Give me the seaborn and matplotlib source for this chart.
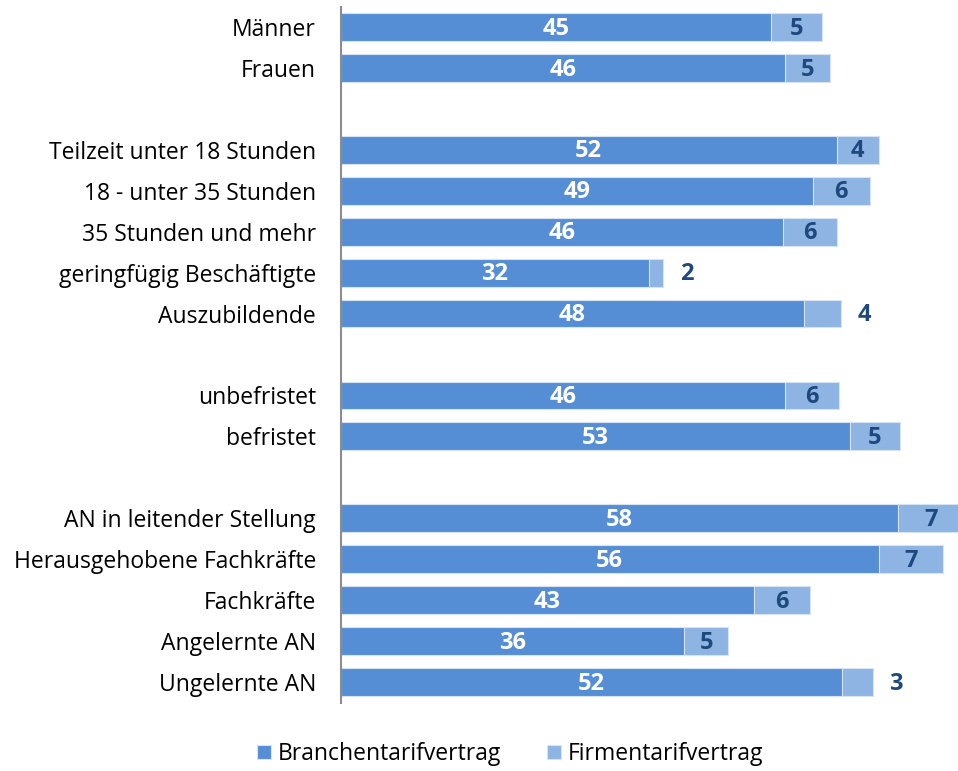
import matplotlib
matplotlib.use("Agg")
import matplotlib.pyplot as plt
import pandas as pd
import seaborn as sns

# categories, blank strings mark the gaps between groups
categories = ["Männer", "Frauen", "",
              "Teilzeit unter 18 Stunden", "18 - unter 35 Stunden", "35 Stunden und mehr",
              "geringfügig Beschäftigte", "Auszubildende", " ",
              "unbefristet", "befristet", "  ",
              "AN in leitender Stellung", "Herausgehobene Fachkräfte", "Fachkräfte",
              "Angelernte AN", "Ungelernte AN"]
rows = ["Männer", "Frauen",
        "Teilzeit unter 18 Stunden", "18 - unter 35 Stunden", "35 Stunden und mehr",
        "geringfügig Beschäftigte", "Auszubildende",
        "unbefristet", "befristet",
        "AN in leitender Stellung", "Herausgehobene Fachkräfte", "Fachkräfte",
        "Angelernte AN", "Ungelernte AN"]
branche = [44.9, 46.4, 51.8, 49.3, 46.2, 32.2, 48.4, 46.4, 53.2, 58.2, 56.2, 43.2, 35.9, 52.4]
firma = [5.4, 4.7, 4.4, 6.0, 5.7, 1.5, 3.9, 5.7, 5.2, 7.0, 6.7, 5.8, 4.6, 3.2]
# small segments get their label outside the bar
outside = ["geringfügig Beschäftigte", "Auszubildende", "Ungelernte AN"]

dark = "#558ED5"
light = "#8EB4E3"
txt_dark = "#1F497D"

plt.rcParams["font.family"] = ["Open Sans", "DejaVu Sans"]

df = pd.DataFrame({"row": rows, "branche": branche, "firma": firma})
df["total"] = df["branche"] + df["firma"]

fig = plt.figure(figsize=(9.58, 7.71), dpi=100)
ax = fig.add_axes([341 / 958, 1 - 702.5 / 771, 1 - 341 / 958, 696 / 771])

sns.barplot(data=df, x="total", y="row", order=categories, color=light,
            saturation=1, width=0.68, edgecolor="#D6E3F3", linewidth=0.8,
            orient="h", ax=ax, label="Firmentarifvertrag")
sns.barplot(data=df, x="branche", y="row", order=categories, color=dark,
            saturation=1, width=0.68, edgecolor="#D6E3F3", linewidth=0.8,
            orient="h", ax=ax, label="Branchentarifvertrag")
h, l = ax.get_legend_handles_labels()
if ax.get_legend() is not None:
    ax.get_legend().remove()

pos = {c: i for i, c in enumerate(categories)}
for _, r in df.iterrows():
    y = pos[r["row"]] + 0.04
    ax.text(r["branche"] / 2, y, f"{r['branche']:.0f}", ha="center", va="center",
            color="white", fontsize=17, fontweight="bold")
    if r["row"] in outside:
        xf = r["total"] + 2.4
    else:
        xf = r["branche"] + r["firma"] / 2
    ax.text(xf, y, f"{r['firma']:.0f}", ha="center", va="center",
            color=txt_dark, fontsize=17, fontweight="bold")

ax.set_xlim(0, 64.5)
ax.set_ylim(16.5, -0.5)
ax.set_xlabel("")
ax.set_ylabel("")
ax.set_xticks([])
ax.tick_params(axis="y", length=0, pad=18, labelsize=16.5)
for s in ["top", "right", "bottom"]:
    ax.spines[s].set_visible(False)
ax.spines["left"].set_color("#8C8C8C")
ax.spines["left"].set_linewidth(1.5)

fig.legend(h[::-1], l[::-1], loc="center", bbox_to_anchor=(510 / 958, 1 - 754 / 771),
           ncol=2, frameon=False, fontsize=16.5, handlelength=0.6, handleheight=0.6,
           handletextpad=0.3, columnspacing=2.0)

fig.savefig("out.png", dpi=100)
